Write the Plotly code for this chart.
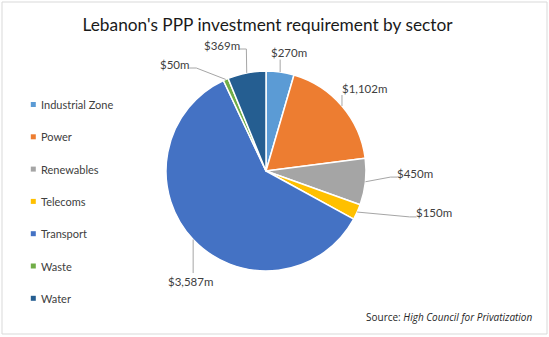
import math
import plotly.graph_objects as go

# Sector investment requirements (US$ millions)
sectors = ["Industrial Zone", "Power", "Renewables", "Telecoms", "Transport", "Waste", "Water"]
values = [270, 1102, 450, 150, 3587, 50, 369]
value_labels = ["$270m", "$1,102m", "$450m", "$150m", "$3,587m", "$50m", "$369m"]
colors = ["#5B9BD5", "#ED7D31", "#A5A5A5", "#FFC000", "#4472C4", "#70AD47", "#255E91"]

# Placement of each value label around the pie: polar angle (deg, clockwise
# from 12 o'clock), distance as a multiple of the radius, and which side of
# the label the leader line attaches to.
label_angle = [10.8, 49.9, 90.8, 104.0, 214.6, 319.6, 340.7]
label_dist = [1.206, 1.288, 1.49, 1.732, 1.337, 1.405, 1.335]
label_attach = ["below", "below", "left", "left", "above", "right", "right"]

W, H = 549, 337
CX, CY, R = 266, 171, 100          # pie centre and radius in pixels


def px(x):
    return x / W


def py(y):
    return 1 - y / H


fig = go.Figure()
fig.add_trace(go.Pie(
    labels=sectors,
    values=values,
    sort=False,
    direction="clockwise",
    rotation=0,
    marker=dict(colors=colors, line=dict(color="white", width=1.5)),
    textinfo="none",
    hoverinfo="label+value",
    showlegend=False,
    domain=dict(x=[px(CX - R), px(CX + R)], y=[py(CY + R), py(CY - R)]),
))

annotations = []
shapes = []

# Value labels with leader lines, anchored to the middle of each slice
total = sum(values)
cum = 0
leader = dict(color="#A6A6A6", width=1)
for v, txt, ang, dist, side in zip(values, value_labels, label_angle, label_dist, label_attach):
    mid = (cum + v / 2) / total * 2 * math.pi
    cum += v
    rx, ry = CX + R * math.sin(mid), CY - R * math.cos(mid)
    a = math.radians(ang)
    lx, ly = CX + dist * R * math.sin(a), CY - dist * R * math.cos(a)
    annotations.append(dict(
        x=px(lx), y=py(ly), xref="paper", yref="paper", text=txt, showarrow=False,
        xanchor="center", yanchor="middle",
        font=dict(family="Lato", size=11.5, color="#404040"),
    ))
    hw = 3.1 * len(txt)
    if side == "below":
        pts = [(rx, ly + 7), (rx, ry)]
    elif side == "above":
        pts = [(rx, ly - 8), (rx, ry)]
    elif side == "right":
        x0 = lx + hw + 2
        pts = [(x0, ly + 4), (x0 + 7, ly + 4), (rx, ry)]
    else:
        x0 = lx - hw - 2
        pts = [(x0, ly + 4), (x0 - 7, ly + 4), (rx, ry)]
    path = "M " + " L ".join(f"{px(x):.5f},{py(y):.5f}" for x, y in pts)
    shapes.append(dict(type="path", path=path, xref="paper", yref="paper", line=leader))

# Legend: colour squares with sector names down the left side
LEG_X, LEG_Y0, LEG_DY, SQ = 33.3, 104.5, 32.3, 5
for i, (name, col) in enumerate(zip(sectors, colors)):
    yy = LEG_Y0 + i * LEG_DY
    shapes.append(dict(
        type="rect", xref="paper", yref="paper",
        x0=px(LEG_X - SQ / 2), x1=px(LEG_X + SQ / 2),
        y0=py(yy + SQ / 2), y1=py(yy - SQ / 2),
        fillcolor=col, line=dict(width=0),
    ))
    annotations.append(dict(
        x=px(39), y=py(yy), xref="paper", yref="paper", text=name, showarrow=False,
        xanchor="left", yanchor="middle",
        font=dict(family="Lato", size=11, color="#404040"),
    ))

# Source note
annotations.append(dict(
    x=px(534), y=py(317), xref="paper", yref="paper",
    text="Source: <i>High Council for Privatization</i>", showarrow=False,
    xanchor="right", yanchor="middle",
    font=dict(family="Open Sans", size=10, color="#262626"),
))

# Chart frame
shapes.append(dict(
    type="rect", xref="paper", yref="paper",
    x0=px(2), x1=px(547), y0=py(334), y1=py(2),
    line=dict(color="#D9D9D9", width=1), fillcolor="rgba(0,0,0,0)",
))

fig.update_layout(
    width=W, height=H,
    margin=dict(l=0, r=0, t=0, b=0),
    paper_bgcolor="white",
    plot_bgcolor="white",
    title=dict(
        text="Lebanon's PPP investment requirement by sector",
        x=px(267.5), xanchor="center", y=py(25), yanchor="middle",
        font=dict(family="Lato", size=17.3, color="#1A1A1A"),
    ),
    annotations=annotations,
    shapes=shapes,
)

fig.write_html("out.html")
